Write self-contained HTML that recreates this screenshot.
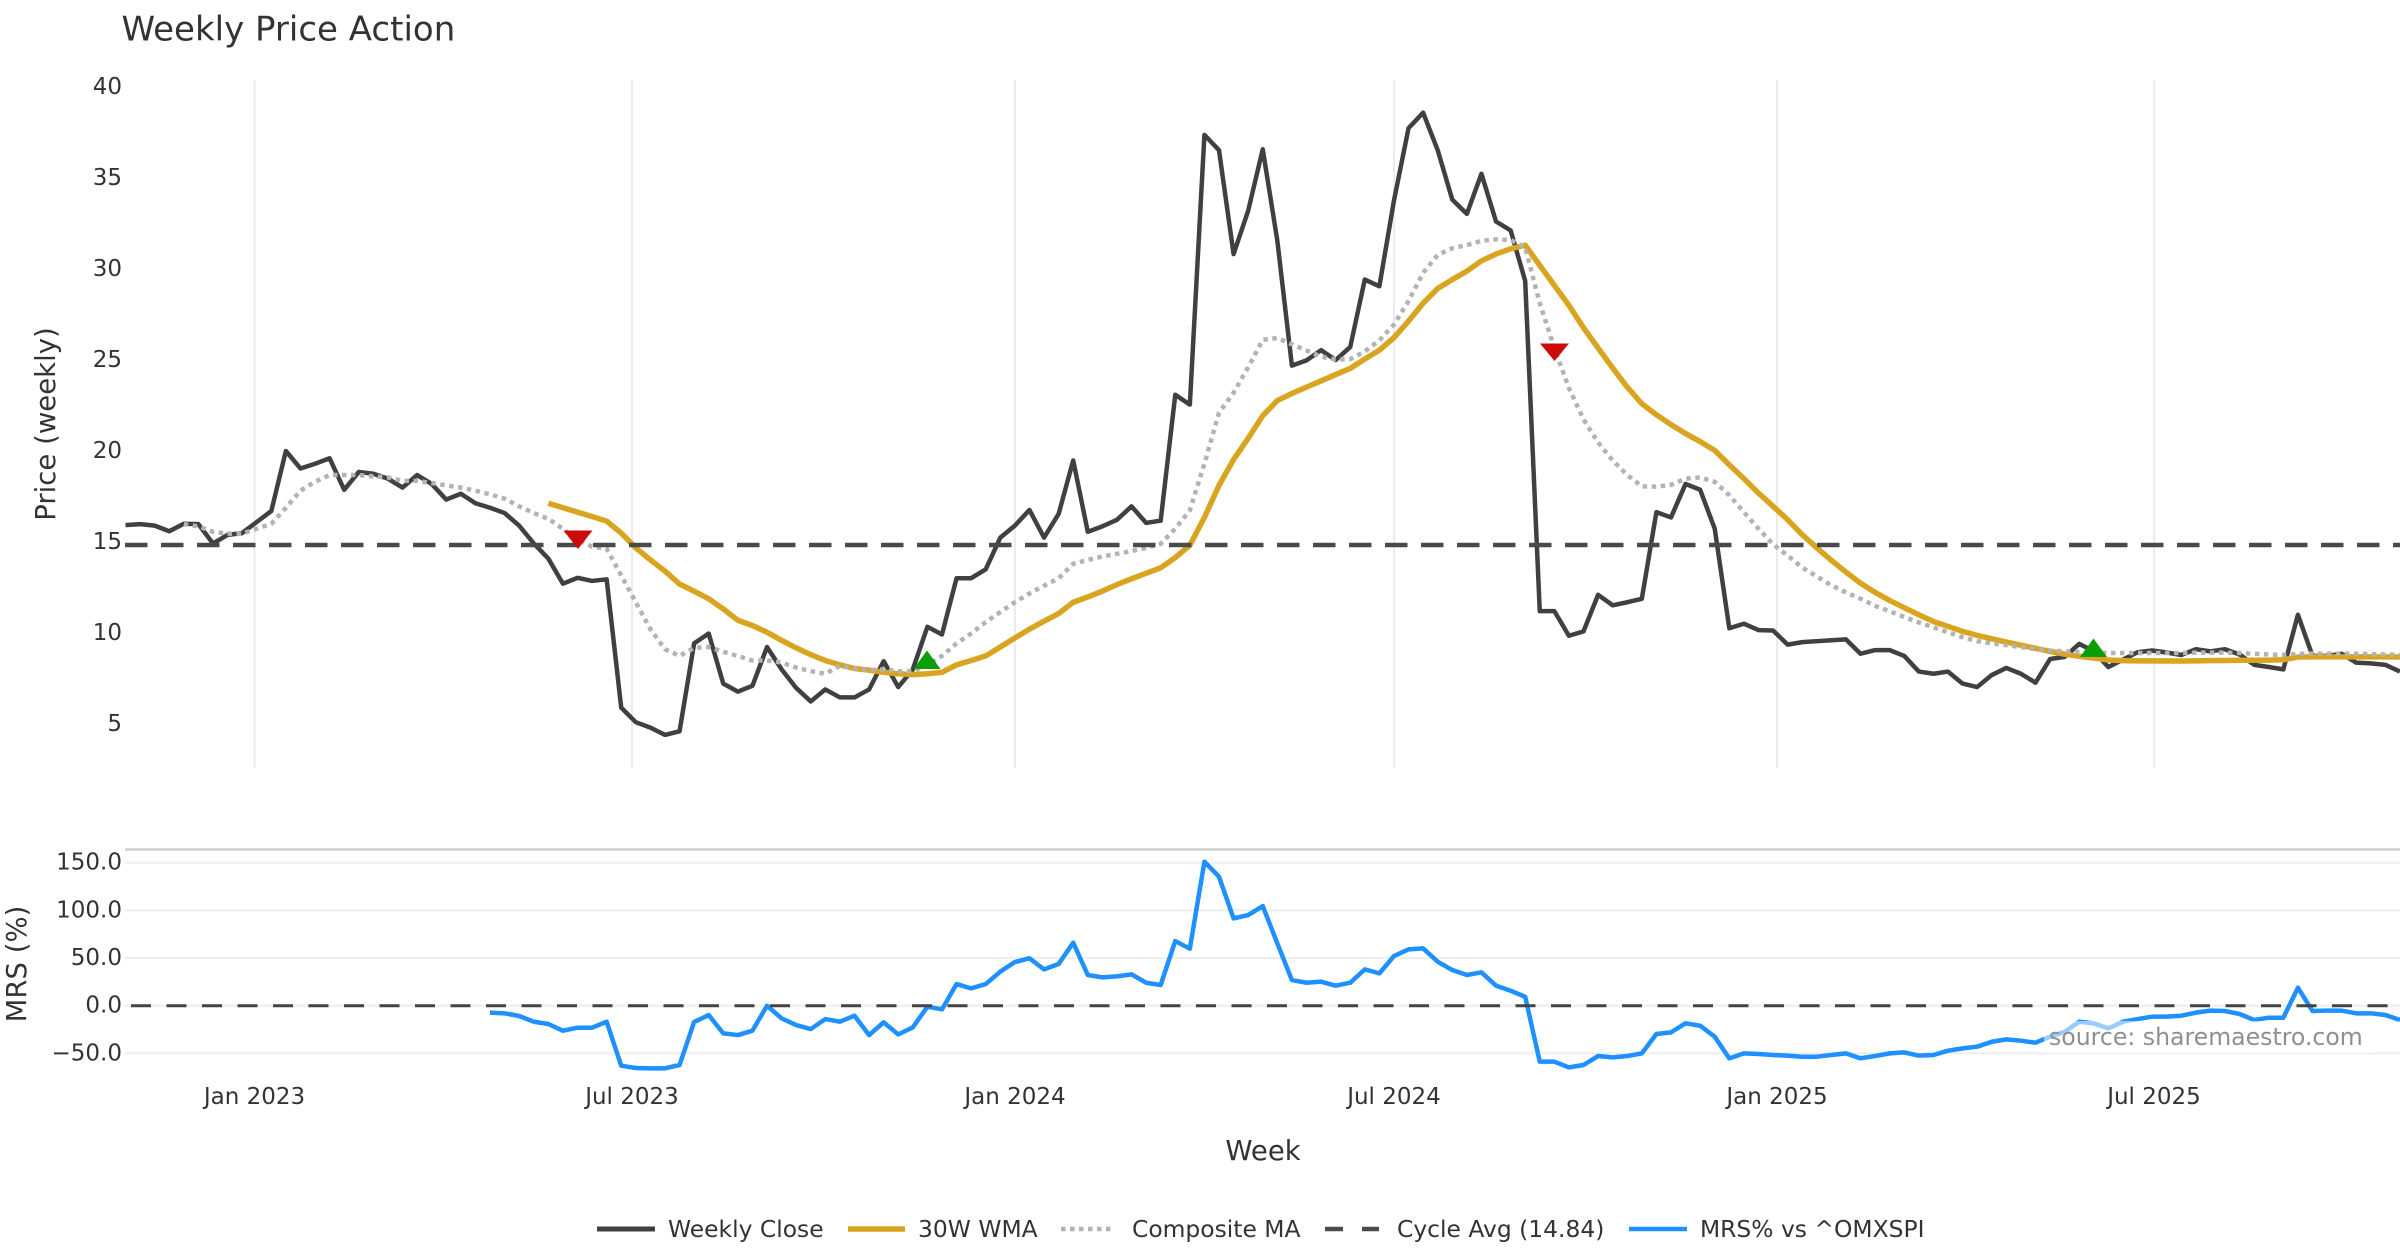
<!DOCTYPE html>
<html>
<head>
<meta charset="utf-8">
<style>
  html, body { margin:0; padding:0; background:#fff; }
  body { width:2400px; height:1260px; overflow:hidden; }
  svg { display:block; font-family:"DejaVu Sans","Liberation Sans",sans-serif; }
  .t { fill:#333; }
</style>
</head>
<body>
<svg width="2400" height="1260" viewBox="0 0 2400 1260" xmlns="http://www.w3.org/2000/svg">
  <rect x="0" y="0" width="2400" height="1260" fill="#ffffff"/>

  <!-- Title -->
  <text class="t" x="121.5" y="40.7" font-size="34">Weekly Price Action</text>

  <!-- Price panel vertical gridlines -->
  <g stroke="#ebebeb" stroke-width="2">
    <line x1="254.5" y1="80" x2="254.5" y2="768"/>
    <line x1="632" y1="80" x2="632" y2="768"/>
    <line x1="1015" y1="80" x2="1015" y2="768"/>
    <line x1="1394" y1="80" x2="1394" y2="768"/>
    <line x1="1777" y1="80" x2="1777" y2="768"/>
    <line x1="2154" y1="80" x2="2154" y2="768"/>
  </g>

  <!-- MRS panel gridlines -->
  <g stroke="#eeeeee" stroke-width="2">
    <line x1="125" y1="862.7" x2="2400" y2="862.7"/>
    <line x1="125" y1="910.3" x2="2400" y2="910.3"/>
    <line x1="125" y1="958" x2="2400" y2="958"/>
    <line x1="125" y1="1005.7" x2="2400" y2="1005.7"/>
    <line x1="125" y1="1053.3" x2="2400" y2="1053.3"/>
  </g>
  <line x1="125" y1="849.5" x2="2400" y2="849.5" stroke="#cfcfcf" stroke-width="2.5"/>

  <!-- Price series -->
  <g transform="matrix(14.58 0 0 -18.2 125.5 815)" fill="none" stroke-linejoin="round">
    <polyline vector-effect="non-scaling-stroke" stroke="#404040" stroke-width="4.5" points="0,15.93 1,15.98 2,15.9 3,15.59 4,16 5,15.98 6,14.92 7,15.39 8,15.49 9,16.1 10,16.7 11,20 12,19.04 13,19.3 14,19.6 15,17.87 16,18.85 17,18.75 18,18.48 19,17.99 20,18.68 21,18.19 22,17.33 23,17.65 24,17.13 25,16.88 26,16.59 27,15.9 28,14.92 29,14.09 30,12.71 31,13.03 32,12.86 33,12.95 34,5.9 35,5.1 36,4.8 37,4.4 38,4.6 39,9.43 40,9.97 41,7.22 42,6.78 43,7.1 44,9.23 45,8 46,6.98 47,6.24 48,6.9 49,6.46 50,6.46 51,6.9 52,8.45 53,7.03 54,8 55,10.34 56,9.92 57,13.01 58,13.01 59,13.5 60,15.24 61,15.9 62,16.76 63,15.24 64,16.54 65,19.48 66,15.56 67,15.86 68,16.22 69,16.96 70,16.05 71,16.17 72,23.09 73,22.55 74,37.37 75,36.53 76,30.82 77,33.2 78,36.58 79,31.56 80,24.69 81,24.98 82,25.54 83,25 84,25.71 85,29.42 86,29.05 87,33.76 88,37.74 89,38.59 90,36.53 91,33.81 92,33.03 93,35.23 94,32.61 95,32.12 96,29.35 97,11.2 98,11.2 99,9.85 100,10.09 101,12.1 102,11.52 103,11.69 104,11.88 105,16.64 106,16.35 107,18.19 108,17.87 109,15.73 110,10.26 111,10.51 112,10.16 113,10.14 114,9.36 115,9.5 116,9.55 117,9.6 118,9.65 119,8.86 120,9.06 121,9.06 122,8.74 123,7.88 124,7.76 125,7.88 126,7.22 127,7.03 128,7.69 129,8.08 130,7.76 131,7.27 132,8.57 133,8.69 134,9.4 135,8.99 136,8.13 137,8.54 138,8.94 139,9.04 140,8.93 141,8.79 142,9.11 143,8.99 144,9.11 145,8.82 146,8.25 147,8.13 148,8 149,11 150,8.74 151,8.74 152,8.86 153,8.37 154,8.33 155,8.25 156,7.88"/>
    <polyline vector-effect="non-scaling-stroke" stroke="#d9a520" stroke-width="5.5" points="29,17.13 30,16.88 31,16.64 32,16.4 33,16.15 34,15.49 35,14.68 36,14.02 37,13.4 38,12.69 39,12.3 40,11.88 41,11.32 42,10.7 43,10.41 44,10.04 45,9.6 46,9.18 47,8.81 48,8.49 49,8.25 50,8.05 51,7.96 52,7.84 53,7.76 54,7.71 55,7.76 56,7.84 57,8.25 58,8.49 59,8.74 60,9.23 61,9.73 62,10.21 63,10.65 64,11.07 65,11.69 66,11.98 67,12.3 68,12.66 69,12.98 70,13.28 71,13.58 72,14.14 73,14.82 74,16.35 75,18.11 76,19.53 77,20.7 78,21.94 79,22.77 80,23.16 81,23.51 82,23.85 83,24.2 84,24.54 85,25.05 86,25.54 87,26.23 88,27.14 89,28.12 90,28.93 91,29.42 92,29.88 93,30.45 94,30.82 95,31.11 96,31.31 97,30.2 98,29.1 99,28 100,26.77 101,25.66 102,24.56 103,23.51 104,22.6 105,21.99 106,21.45 107,20.96 108,20.52 109,20.03 110,19.24 111,18.48 112,17.69 113,16.96 114,16.23 115,15.4 116,14.68 117,13.99 118,13.35 119,12.74 120,12.23 121,11.79 122,11.39 123,11 124,10.63 125,10.36 126,10.09 127,9.87 128,9.68 129,9.5 130,9.33 131,9.16 132,8.99 133,8.84 134,8.72 135,8.62 136,8.52 137,8.48 138,8.47 139,8.47 140,8.46 141,8.46 142,8.47 143,8.48 144,8.49 145,8.5 146,8.5 147,8.51 148,8.53 149,8.68 150,8.69 151,8.69 152,8.69 153,8.69 154,8.69 155,8.69 156,8.68"/>
    <polyline vector-effect="non-scaling-stroke" stroke="#b3b3b3" stroke-width="4.5" stroke-dasharray="4.5 4.5" points="4,15.98 5,15.86 6,15.56 7,15.46 8,15.46 9,15.73 10,16 11,16.88 12,17.82 13,18.31 14,18.68 15,18.68 16,18.68 17,18.6 18,18.55 19,18.36 20,18.36 21,18.24 22,18.11 23,17.99 24,17.82 25,17.62 26,17.38 27,16.96 28,16.59 29,16.27 30,15.73 31,15.12 32,14.75 33,14.63 34,13.16 35,11.69 36,10.21 37,9.11 38,8.74 39,9.18 40,9.23 41,8.97 42,8.74 43,8.49 44,8.49 45,8.38 46,8.1 47,7.9 48,7.76 49,8.2 50,8.05 51,7.96 52,8 53,7.9 54,7.9 55,8.25 56,8.74 57,9.43 58,9.97 59,10.6 60,11.15 61,11.69 62,12.17 63,12.6 64,13 65,13.8 66,14.02 67,14.2 68,14.35 69,14.5 70,14.68 71,14.9 72,15.73 73,16.74 74,19.3 75,22.1 76,23.2 77,24.6 78,26.11 79,26.21 80,25.86 81,25.52 82,25.18 83,25.03 84,25.05 85,25.47 86,26.08 87,26.95 88,28.24 89,29.79 90,30.77 91,31.14 92,31.31 93,31.55 94,31.63 95,31.6 96,31.19 97,28.12 98,25.66 99,23.46 100,21.74 101,20.47 102,19.48 103,18.68 104,18.06 105,18.04 106,18.14 107,18.48 108,18.55 109,18.31 110,17.57 111,16.64 112,15.73 113,14.87 114,14.26 115,13.6 116,13.11 117,12.62 118,12.23 119,11.88 120,11.49 121,11.2 122,10.88 123,10.58 124,10.31 125,10.04 126,9.77 127,9.55 128,9.43 129,9.33 130,9.23 131,9.11 132,9.04 133,8.99 134,8.95 135,8.93 136,8.9 137,8.9 138,8.9 139,8.9 140,8.9 141,8.9 142,8.92 143,8.92 144,8.92 145,8.9 146,8.86 147,8.82 148,8.8 149,8.85 150,8.87 151,8.87 152,8.87 153,8.86 154,8.84 155,8.82 156,8.8"/>
  </g>

  <!-- Cycle average -->
  <line x1="125" y1="545" x2="2400" y2="545" stroke="#4a4a4a" stroke-width="4.5" stroke-dasharray="22.5 13.5"/>

  <!-- Signal markers -->
  <polygon points="563.5,530.5 592.5,530.5 578,549" fill="#cc0a0a"/>
  <polygon points="913.5,669 940.5,669 927,650.5" fill="#0a9e0a"/>
  <polygon points="1540,343.5 1569,343.5 1554.5,361" fill="#cc0a0a"/>
  <polygon points="2080,657 2107,657 2093.5,638.5" fill="#0a9e0a"/>

  <!-- MRS series -->
  <g transform="matrix(14.58 0 0 -0.9533 125.5 1005.7)" fill="none" stroke-linejoin="round">
    <polyline vector-effect="non-scaling-stroke" stroke="#1E90FF" stroke-width="4.5" points="25,-7.3 26,-8 27,-10.8 28,-16.8 29,-19.2 30,-26.2 31,-23.1 32,-23.1 33,-16.8 34,-62.9 35,-65.4 36,-65.7 37,-65.7 38,-62.2 39,-17.1 40,-9.8 41,-29 42,-30.8 43,-26.2 44,0 45,-13.3 46,-20.3 47,-24.5 48,-14 49,-16.8 50,-10.5 51,-30.8 52,-17.5 53,-30.1 54,-22.7 55,-1 56,-3.8 57,22.7 58,18.2 59,22.7 60,35.7 61,45.8 62,49.7 63,38.1 64,43.7 65,66.1 66,32.2 67,29.7 68,30.8 69,32.9 70,24.1 71,21.7 72,67.8 73,59.8 74,151 75,135.3 76,91.6 77,95.1 78,104.5 79,65.4 80,26.9 81,24.1 82,25.2 83,21 84,24.1 85,38.1 86,33.9 87,52.1 88,59.1 89,60.1 90,46.2 91,37.4 92,32.2 93,35 94,21 95,15.7 96,9.4 97,-58.7 98,-58.7 99,-64.7 100,-62.2 101,-52.8 102,-54.2 103,-52.8 104,-50 105,-29.7 106,-28 107,-18.5 108,-21 109,-32.5 110,-55.2 111,-50 112,-50.7 113,-51.7 114,-52.4 115,-53.5 116,-53.5 117,-51.7 118,-50 119,-55.2 120,-52.8 121,-50 122,-49 123,-52.4 124,-51.7 125,-47.2 126,-44.8 127,-43 128,-37.8 129,-35.3 130,-36.7 131,-38.8 132,-32.5 133,-27.3 134,-16.8 135,-18.5 136,-23.8 137,-16.8 138,-14 139,-11.5 140,-11.5 141,-10.5 142,-7.3 143,-5.2 144,-5.6 145,-8.7 146,-15 147,-12.6 148,-12.6 149,18.9 150,-5.6 151,-5.2 152,-5.2 153,-8 154,-8 155,-9.8 156,-15"/>
  </g>

  <!-- MRS zero line -->
  <line x1="125" y1="1005.7" x2="2400" y2="1005.7" stroke="#444" stroke-width="3" stroke-dasharray="20 15.5" stroke-dashoffset="-6"/>

  <!-- Source annotation -->
  <rect x="2044" y="1021" width="327" height="32" fill="#ffffff" fill-opacity="0.55"/>
  <text x="2049" y="1037" font-size="23.6" fill="#8f8f8f" dominant-baseline="central">source: sharemaestro.com</text>

  <!-- Price y tick labels -->
  <g class="t" font-size="23" text-anchor="end" dominant-baseline="central">
    <text x="122" y="87">40</text>
    <text x="122" y="178">35</text>
    <text x="122" y="269">30</text>
    <text x="122" y="360">25</text>
    <text x="122" y="451">20</text>
    <text x="122" y="542">15</text>
    <text x="122" y="633">10</text>
    <text x="122" y="724">5</text>
  </g>

  <!-- MRS y tick labels -->
  <g class="t" font-size="23" text-anchor="end" dominant-baseline="central">
    <text x="122" y="862.7">150.0</text>
    <text x="122" y="910.3">100.0</text>
    <text x="122" y="958">50.0</text>
    <text x="122" y="1005.7">0.0</text>
    <text x="122" y="1053.3">−50.0</text>
  </g>

  <!-- X tick labels -->
  <g class="t" font-size="23" text-anchor="middle" dominant-baseline="central">
    <text x="254.5" y="1097">Jan 2023</text>
    <text x="632" y="1097">Jul 2023</text>
    <text x="1015" y="1097">Jan 2024</text>
    <text x="1394" y="1097">Jul 2024</text>
    <text x="1777" y="1097">Jan 2025</text>
    <text x="2154" y="1097">Jul 2025</text>
  </g>

  <!-- Axis titles -->
  <text class="t" font-size="27.5" text-anchor="middle" dominant-baseline="central" transform="translate(46,424) rotate(-90)">Price (weekly)</text>
  <text class="t" font-size="27.5" text-anchor="middle" dominant-baseline="central" transform="translate(17,964) rotate(-90)">MRS (%)</text>
  <text class="t" font-size="27.5" text-anchor="middle" dominant-baseline="central" x="1263" y="1151">Week</text>

  <!-- Legend -->
  <g>
    <line x1="597" y1="1229" x2="655" y2="1229" stroke="#404040" stroke-width="5"/>
    <text class="t" x="668" y="1229" font-size="23.4" dominant-baseline="central">Weekly Close</text>

    <line x1="848" y1="1229" x2="905" y2="1229" stroke="#d9a520" stroke-width="5.5"/>
    <text class="t" x="918" y="1229" font-size="23.4" dominant-baseline="central">30W WMA</text>

    <line x1="1061" y1="1229" x2="1115" y2="1229" stroke="#b3b3b3" stroke-width="4.5" stroke-dasharray="4.5 4.5"/>
    <text class="t" x="1132" y="1229" font-size="23.4" dominant-baseline="central">Composite MA</text>

    <line x1="1325" y1="1229" x2="1379" y2="1229" stroke="#4a4a4a" stroke-width="4.5" stroke-dasharray="18 19"/>
    <text class="t" x="1397" y="1229" font-size="23.4" dominant-baseline="central">Cycle Avg (14.84)</text>

    <line x1="1629" y1="1229" x2="1687" y2="1229" stroke="#1E90FF" stroke-width="4.5"/>
    <text class="t" x="1700" y="1229" font-size="23.4" dominant-baseline="central">MRS% vs ^OMXSPI</text>
  </g>
</svg>
</body>
</html>
